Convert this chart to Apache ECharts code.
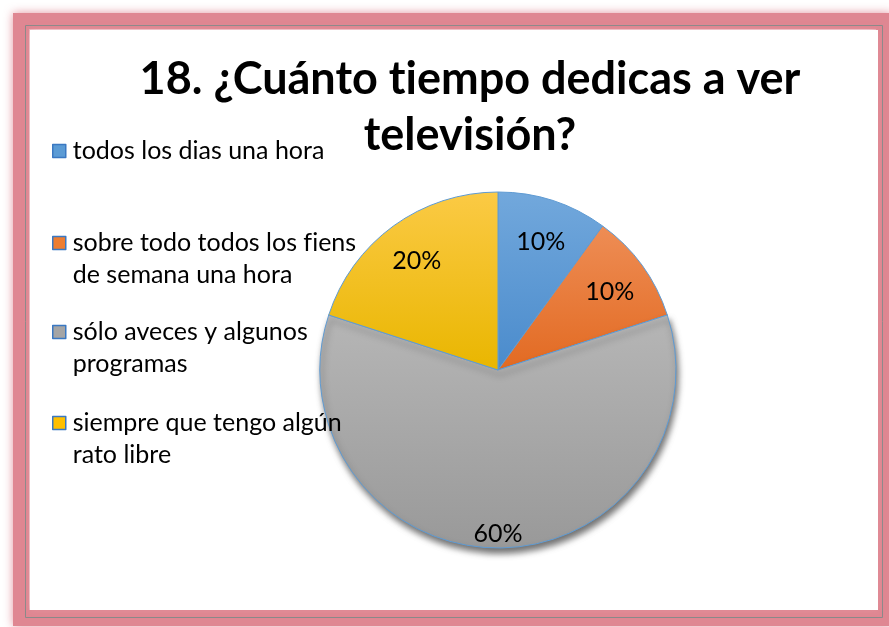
<!DOCTYPE html>
<html>
<head>
<meta charset="utf-8">
<script src="https://cdn.jsdelivr.net/npm/echarts@6/dist/echarts.min.js"></script>
<style>
html,body{margin:0;padding:0;background:#fff;}
#c{width:889px;height:627px;}
</style>
</head>
<body>
<div id="c"></div>
<script>
const titleText = '18. ¿Cuánto tiempo dedicas a ver\ntelevisión?';
const categories = [
  'todos los dias una hora',
  'sobre todo todos los fiens de semana una hora',
  'sólo aveces y algunos programas',
  'siempre que tengo algún rato libre'
];
const legendLines = [
  ['todos los dias una hora'],
  ['sobre todo todos los fiens', 'de semana una hora'],
  ['sólo aveces y algunos', 'programas'],
  ['siempre que tengo algún', 'rato libre']
];
const values = [10, 10, 60, 20];
const labels = ['10%', '10%', '60%', '20%'];

// turn off typographic ligatures (e.g. "ti", "fi") in canvas text
(function () {
  const P = CanvasRenderingContext2D.prototype;
  const wrap = (fn) => function () {
    if ('textRendering' in this) this.textRendering = 'optimizeSpeed';
    return fn.apply(this, arguments);
  };
  P.fillText = wrap(P.fillText);
  P.strokeText = wrap(P.strokeText);
  P.measureText = wrap(P.measureText);
})();

const FONT = 'Lato';
const grad = (a, b) => new echarts.graphic.LinearGradient(0, 0, 0, 1, [{offset: 0, color: a}, {offset: 1, color: b}]);
const colors = [
  grad('#72a8dc', '#4a8bcc'),
  grad('#ee8d55', '#e26a22'),
  grad('#b6b6b6', '#999999'),
  grad('#fbca45', '#e9b600')
];
const solid = ['#5b9bd5', '#ed7d31', '#a5a5a5', '#ffc000'];

const center = [498, 370];
const labelCenter = [498, 373];
const R = 178;

const chart = echarts.init(document.getElementById('c'), null, {renderer: 'canvas'});

const legendTops = [135, 195, 284, 375];
const legends = categories.map((name, i) => ({
  orient: 'vertical',
  left: 52,
  top: legendTops[i],
  padding: 0,
  data: [{name: name, itemStyle: {color: solid[i], borderColor: '#3a78c2', borderWidth: 1.5}}],
  itemWidth: 13,
  itemHeight: 13,
  itemGap: 0,
  icon: 'rect',
  selectedMode: false,
  formatter: () => (legendLines[i].length > 1 ? '\n' : '') + legendLines[i].join('\n'),
  textStyle: {
    fontFamily: FONT, fontSize: 25, lineHeight: 32, color: '#000',
    padding: [0, 0, 0, 2]
  }
}));

const mainData = categories.map((name, i) => ({
  name: name,
  value: values[i],
  itemStyle: {
    color: colors[i],
    shadowBlur: i === 2 ? 6 : 0,
    shadowOffsetY: i === 2 ? 5 : 0,
    shadowOffsetX: i === 2 ? 2 : 0,
    shadowColor: 'rgba(0,0,0,0.55)'
  }
}));

const labelData = (showIdx) => categories.map((name, i) => ({
  name: name,
  value: values[i],
  label: {show: showIdx.includes(i), formatter: labels[i]}
}));

const overlay = (r0, showIdx) => ({
  type: 'pie',
  center: labelCenter,
  radius: [r0, R],
  startAngle: 90,
  clockwise: true,
  silent: true,
  z: 5,
  itemStyle: {color: 'rgba(0,0,0,0)', borderWidth: 0},
  label: {position: 'inside', fontFamily: FONT, fontSize: 25, color: '#000'},
  labelLine: {show: false},
  emphasis: {disabled: true},
  data: labelData(showIdx)
});

chart.setOption({
  animation: false,
  backgroundColor: '#fff',
  graphic: [
    {type: 'rect', z: -30, shape: {x: 21, y: 21, width: 863, height: 597},
     style: {fill: 'none', stroke: '#df8792', lineWidth: 16, shadowBlur: 10, shadowColor: 'rgba(220,120,135,0.8)'}},
    {type: 'rect', z: -20, shape: {x: 25.5, y: 25.5, width: 857, height: 592},
     style: {fill: 'none', stroke: '#8a8a8a', lineWidth: 1}},
    {type: 'rect', z: -10, shape: {x: 30, y: 30, width: 848, height: 580},
     style: {fill: '#fff', shadowBlur: 6, shadowColor: 'rgba(230,150,160,0.6)'}}
  ],
  title: {
    text: titleText,
    left: 465,
    top: 46,
    textAlign: 'center',
    textStyle: {fontFamily: FONT, fontWeight: 'bold', fontSize: 45, lineHeight: 56, color: '#000'}
  },
  legend: legends,
  series: [
    {
      type: 'pie',
      center: center,
      radius: [0, R],
      startAngle: 90,
      clockwise: true,
      silent: true,
      z: 2,
      itemStyle: {borderColor: '#5f9bd3', borderWidth: 1},
      label: {show: false},
      labelLine: {show: false},
      emphasis: {disabled: true},
      data: mainData
    },
    overlay(92, [0, 1, 3]),
    overlay(137, [2])
  ]
});
</script>
</body>
</html>
